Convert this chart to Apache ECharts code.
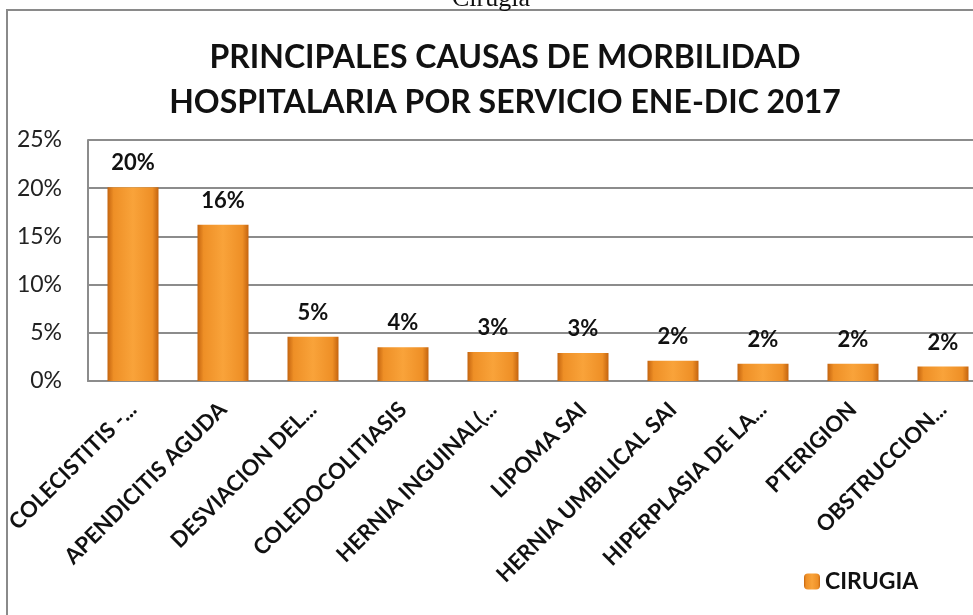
<!DOCTYPE html>
<html>
<head>
<meta charset="utf-8">
<script src="https://cdn.jsdelivr.net/npm/echarts@6/dist/echarts.min.js"></script>
<style>
  html, body { margin: 0; padding: 0; background: #fff; }
  #chart { width: 973px; height: 615px; }
</style>
</head>
<body>
<div id="chart"></div>
<script>
// categorias (etiquetas recortadas como en el original)
const categorias = [
    'COLECISTITIS -...',
    'APENDICITIS AGUDA',
    'DESVIACION DEL...',
    'COLEDOCOLITIASIS',
    'HERNIA INGUINAL(...',
    'LIPOMA SAI',
    'HERNIA UMBILICAL SAI',
    'HIPERPLASIA DE LA...',
    'PTERIGION',
    'OBSTRUCCION...'
];
// porcentaje de casos, servicio de cirugia
const cirugia = [20.1, 16.2, 4.6, 3.5, 3.0, 2.9, 2.1, 1.8, 1.8, 1.5];
const ticksY = [0, 5, 10, 15, 20, 25];

const chart = echarts.init(document.getElementById('chart'));

const barFill = new echarts.graphic.LinearGradient(0, 0, 1, 0, [
    { offset: 0, color: '#c4640f' },
    { offset: 0.12, color: '#ee8f26' },
    { offset: 0.5, color: '#f9a33a' },
    { offset: 0.88, color: '#ee8f26' },
    { offset: 1, color: '#c4640f' }
]);

const option = {
    backgroundColor: '#fff',
    animation: false,
    title: {
        text: 'PRINCIPALES CAUSAS DE MORBILIDAD\nHOSPITALARIA POR SERVICIO ENE-DIC 2017',
        left: 500,
        top: 30,
        textAlign: 'center',
        textStyle: {
            fontFamily: 'Lato',
            fontWeight: 'bold',
            fontSize: 32,
            lineHeight: 45,
            color: '#111'
        }
    },
    graphic: [
        {
            type: 'rect',
            shape: { x: 7, y: 10, width: 980, height: 620 },
            style: { fill: 'none', stroke: '#8a8a8a', lineWidth: 2 },
            z: -1
        },
        {
            type: 'text',
            left: 452,
            top: -14,
            style: {
                text: 'Cirugia',
                font: '26px "Liberation Serif"',
                fill: '#111'
            }
        }
    ],
    legend: {
        data: ['CIRUGIA'],
        left: 799,
        top: 565,
        itemWidth: 16,
        itemHeight: 16,
        itemGap: 4,
        textStyle: {
            fontFamily: 'Lato',
            fontWeight: 'bold',
            fontSize: 23,
            color: '#111'
        }
    },
    grid: {
        left: 88,
        width: 900,
        top: 140,
        bottom: 234,
        containLabel: false,
        outerBoundsMode: 'none'
    },
    xAxis: {
        type: 'category',
        data: categorias,
        axisLine: { lineStyle: { color: '#8c8c8c', width: 2 } },
        axisTick: { show: false },
        axisLabel: {
            interval: 0,
            rotate: 45,
            margin: 25,
            fontFamily: 'Lato',
            fontWeight: 'bold',
            fontSize: 22,
            color: '#111'
        }
    },
    yAxis: {
        type: 'value',
        min: ticksY[0],
        max: ticksY[ticksY.length - 1],
        interval: 5,
        axisLine: { show: true, lineStyle: { color: '#8c8c8c', width: 2 } },
        axisTick: { show: false },
        splitLine: { lineStyle: { color: '#8c8c8c', width: 2 } },
        axisLabel: {
            formatter: '{value}%',
            margin: 26,
            fontFamily: 'Lato',
            fontSize: 23,
            color: '#222'
        }
    },
    series: [
        {
            name: 'CIRUGIA',
            type: 'bar',
            data: cirugia,
            barWidth: 51,
            itemStyle: {
                color: barFill
            },
            label: {
                show: true,
                position: 'top',
                distance: 13,
                formatter: p => Math.round(p.value) + '%',
                fontFamily: 'Lato',
                fontWeight: 'bold',
                fontSize: 22,
                color: '#111'
            }
        }
    ]
};

chart.setOption(option);

window.addEventListener('resize', () => {
    chart.resize();
});
</script>
</body>
</html>
